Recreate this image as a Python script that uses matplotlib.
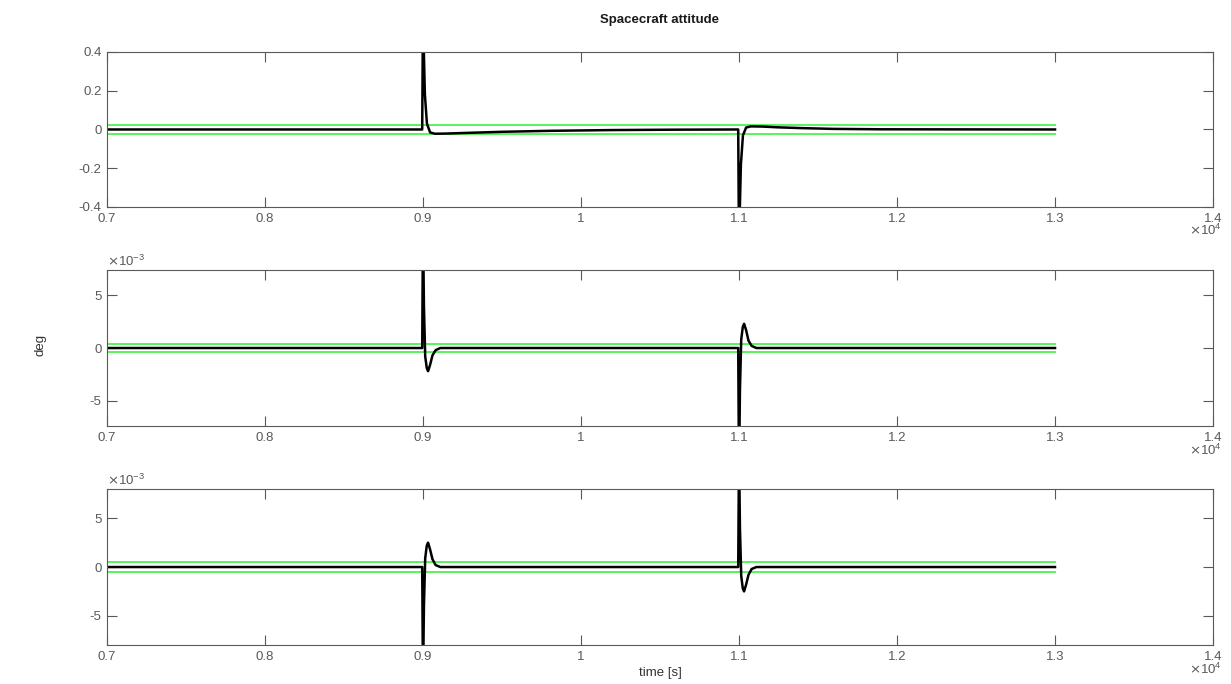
import numpy as np
import matplotlib
matplotlib.use('Agg')
import matplotlib.pyplot as plt
from matplotlib.ticker import FuncFormatter

plt.rcParams['font.family'] = ['Liberation Sans', 'DejaVu Sans']

# attitude error per axis (time in s, values in deg)
t1 = [7000, 8995, 9000, 9004, 9012, 9025, 9045, 9075, 9150, 9300, 9500, 9800,
      10200, 10600, 10995, 11000, 11004, 11012, 11025, 11045, 11075, 11150,
      11250, 11400, 11600, 11900, 13000]
a1 = [0, 0, 0.62, 0.45, 0.18, 0.03, -0.015, -0.022, -0.021, -0.017, -0.012,
      -0.007, -0.003, -0.001, 0, -0.62, -0.45, -0.18, -0.03, 0.01, 0.016,
      0.015, 0.011, 0.007, 0.003, 0.001, 0]

t2 = [7000, 8995, 9000, 9006, 9014, 9024, 9032, 9045, 9060, 9080, 9110,
      10995, 11000, 11006, 11014, 11024, 11032, 11045, 11060, 11080, 11110, 13000]
a2 = [0, 0, 0.012, 0.004, -0.0008, -0.0019, -0.0022, -0.0016, -0.0007, -0.0002, 0,
      0, -0.012, -0.004, 0.0008, 0.002, 0.0023, 0.0017, 0.0007, 0.0002, 0, 0]

t3 = [7000, 8995, 9000, 9006, 9014, 9024, 9032, 9045, 9060, 9080, 9110,
      10995, 11000, 11006, 11014, 11024, 11032, 11045, 11060, 11080, 11110, 13000]
a3 = [0, 0, -0.012, -0.004, 0.0009, 0.0022, 0.0025, 0.0018, 0.0008, 0.0002, 0,
      0, 0.012, 0.004, -0.0009, -0.0022, -0.0025, -0.0018, -0.0008, -0.0002, 0, 0]

# requirement bounds (+/-)
bound_t = [7000, 13000]
bounds = [0.025, 0.0004, 0.0005]
ylims = [0.4, 0.0074, 0.008]
yticks = [[-0.4, -0.2, 0, 0.2, 0.4], [-0.005, 0, 0.005], [-0.005, 0, 0.005]]
xticks = [7000, 8000, 9000, 10000, 11000, 12000, 13000, 14000]

fig = plt.figure(figsize=(12.31, 6.84), dpi=100)
pos = [[0.0869, 0.6974, 0.8985, 0.2266],
       [0.0869, 0.3772, 0.8985, 0.2280],
       [0.0869, 0.0570, 0.8985, 0.2280]]

axc = '0.35'
fs = 9.5
for i, (t, a) in enumerate([(t1, a1), (t2, a2), (t3, a3)]):
    ax = fig.add_axes(pos[i])
    ax.plot(bound_t, [bounds[i], bounds[i]], color=(0.3, 0.95, 0.3), lw=1.3)
    ax.plot(bound_t, [-bounds[i], -bounds[i]], color=(0.3, 0.95, 0.3), lw=1.3)
    ax.plot(t, a, color='k', lw=1.8)
    ax.set_xlim(7000, 14000)
    ax.set_ylim(-ylims[i], ylims[i])
    ax.set_xticks(xticks)
    ax.set_yticks(yticks[i])
    ax.xaxis.set_major_formatter(FuncFormatter(lambda v, _: f'{v / 1e4:g}'))
    if i == 0:
        ax.yaxis.set_major_formatter(FuncFormatter(lambda v, _: f'{v:g}'))
    else:
        ax.yaxis.set_major_formatter(FuncFormatter(lambda v, _: f'{v * 1e3:g}'))
        ax.text(0.0, 1.005, r'$\times\mathregular{10^{-3}}$', transform=ax.transAxes,
                ha='left', va='bottom', fontsize=fs, color=axc)
    ax.tick_params(direction='in', top=True, right=True, length=7.5,
                   width=0.8, colors=axc, labelsize=fs, pad=4)
    for s in ax.spines.values():
        s.set_color(axc)
        s.set_linewidth(0.8)
    ax.text(1.008, -0.105, r'$\times\mathregular{10^{4}}$', transform=ax.transAxes,
            ha='right', va='top', fontsize=fs, color=axc)
    if i == 2:
        ax.set_xlabel('time [s]', fontsize=fs, color='0.2', labelpad=3)

fig.text(0.536, 0.971, 'Spacecraft attitude', ha='center', va='center',
         fontsize=9.5, fontweight='bold', color='0.1')
fig.text(0.0325, 0.496, 'deg', ha='center', va='center', rotation=90,
         fontsize=fs, color='0.2')

fig.savefig('out.png', dpi=100)
